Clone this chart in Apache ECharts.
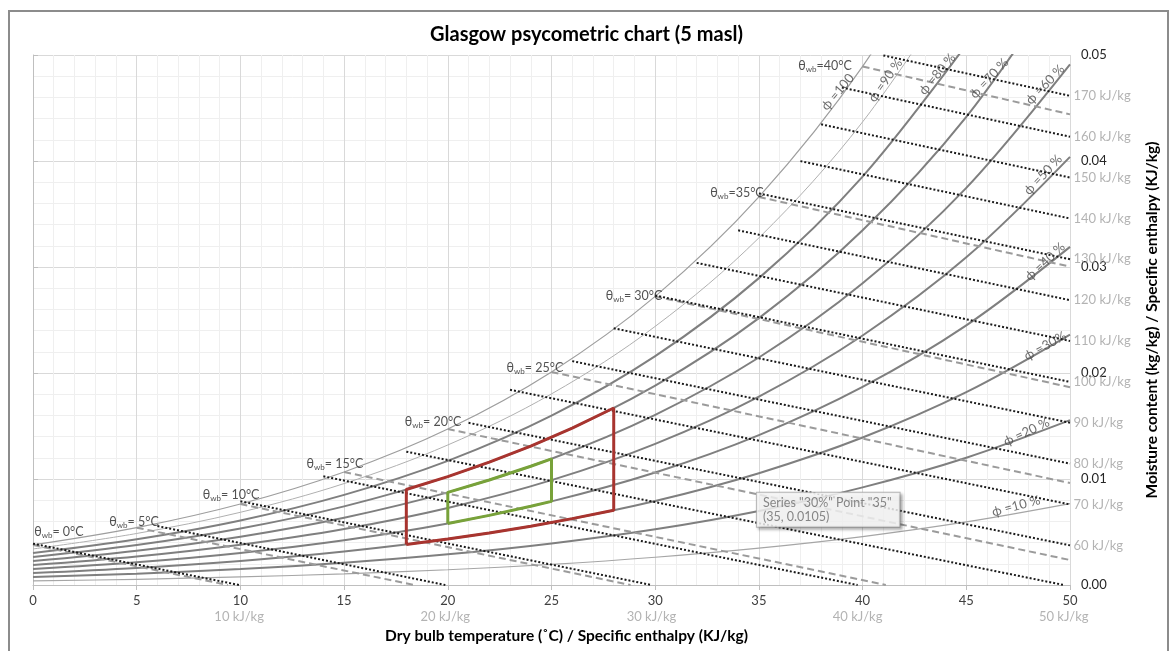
<!DOCTYPE html>
<html><head><meta charset="utf-8">
<script src="https://cdn.jsdelivr.net/npm/echarts@6/dist/echarts.min.js"></script>
<style>
html,body{margin:0;padding:0;background:#fff;overflow:hidden}
#chart{position:absolute;left:0;top:0;width:1173px;height:651px}
#frame{position:absolute;left:8px;top:10px;width:1157px;height:700px;border:2px solid #8c8c8c;pointer-events:none}
</style></head><body>
<div id="chart"></div><div id="frame"></div>
<script>
// ---- data ----
const rhT = [0, 5, 10, 15, 20, 25, 30, 35, 40, 45, 50];
const rh100 = [0.00378, 0.00541, 0.00764, 0.01066, 0.01471, 0.02010, 0.02723, 0.03661, 0.04892, 0.06506];
const rh90 = [0.00340, 0.00486, 0.00686, 0.00957, 0.01321, 0.01803, 0.02440, 0.03275, 0.04369, 0.05795];
const rh80 = [0.00302, 0.00432, 0.00609, 0.00850, 0.01171, 0.01597, 0.02159, 0.02895, 0.03853, 0.05098];
const rh70 = [0.00264, 0.00377, 0.00533, 0.00742, 0.01022, 0.01393, 0.01881, 0.02518, 0.03346, 0.04416, 0.05806];
const rh60 = [0.00226, 0.00323, 0.00456, 0.00635, 0.00874, 0.01191, 0.01605, 0.02146, 0.02846, 0.03747, 0.04911];
const rh50 = [0.00188, 0.00269, 0.00380, 0.00528, 0.00727, 0.00989, 0.01332, 0.01778, 0.02354, 0.03091, 0.04039];
const rh40 = [0.00151, 0.00215, 0.00303, 0.00422, 0.00580, 0.00789, 0.01061, 0.01414, 0.01869, 0.02449, 0.03190];
const rh30 = [0.00113, 0.00161, 0.00227, 0.00316, 0.00434, 0.00590, 0.00793, 0.01055, 0.01391, 0.01819, 0.02362];
const rh20 = [0.00075, 0.00107, 0.00151, 0.00210, 0.00289, 0.00392, 0.00526, 0.00699, 0.00921, 0.01201, 0.01555];
const rh10 = [0.00038, 0.00054, 0.00076, 0.00105, 0.00144, 0.00195, 0.00262, 0.00348, 0.00457, 0.00595, 0.00768];

// constant enthalpy lines (kJ/kg)
const hVals   = [10, 20, 30, 40, 50, 60, 70, 80, 90, 100, 110, 120, 130, 140, 150, 160, 170];
const hStartT = [0, 6, 10, 14, 18, 21, 23, 26, 28, 30, 32, 34, 35, 37, 38, 39, 41];
const hStartW = [0.0039, 0.00556, 0.00790, 0.01025, 0.01258, 0.01530, 0.01842, 0.02112, 0.02422, 0.02731, 0.03039, 0.03346, 0.03694, 0.03999, 0.04346, 0.04693, 0.04996];
const hEndT   = [9.94, 19.88, 29.82, 39.76, 49.70, 50, 50, 50, 50, 50, 50, 50, 50, 50, 50, 50, 50];
const hEndW   = [0, 0, 0, 0, 0, 0.00374, 0.00760, 0.01145, 0.01531, 0.01916, 0.02302, 0.02687, 0.03073, 0.03458, 0.03844, 0.04229, 0.04615];

// constant wet-bulb lines
const wbT      = [0, 5, 10, 15, 20, 25, 30, 35, 40];
const wbStartW = [0.00378, 0.00541, 0.00764, 0.01066, 0.01471, 0.02010, 0.02723, 0.03661, 0.04892];
const wbEndT   = [9.39, 18.38, 28.81, 41.12, 50, 50, 50, 50, 50];
const wbEndW   = [0, 0, 0, 0, 0.00236, 0.00962, 0.01866, 0.03003, 0.04440];

// wet-bulb label anchors and texts
const wbLabelT = [1.25, 4.87, 9.55, 14.56, 19.29, 24.2, 28.98, 33.94, 38.19];
const wbLabelW = [0.0050, 0.00594, 0.00849, 0.01142, 0.01538, 0.02047, 0.02726, 0.03698, 0.04896];
const wbLabelText = ['= 0°C', '= 5°C', '= 10°C', '= 15°C', '= 20°C', '= 25°C', '= 30°C', '=35°C', '=40°C'];

// relative humidity labels
const phiLabelT = [38.8, 41.1, 43.6, 46.1, 48.8, 48.7, 48.8, 48.8, 47.9, 47.4];
const phiLabelW = [0.0465, 0.0476, 0.0482, 0.0478, 0.0472, 0.0387, 0.0305, 0.02255, 0.01443, 0.00745];
const phiLabelRot = [50, 55, 50, 47, 46, 47, 43, 29, 25, 15];
const phiLabelText = ['ϕ =100', 'ϕ =90 %', 'ϕ =80 %', 'ϕ =70 %', 'ϕ =60 %', 'ϕ =50 %', 'ϕ =40 %', 'ϕ =30%', 'ϕ =20 %', 'ϕ =10 %'];

// comfort zones
const redT = [18, 18, 20, 22, 24, 26, 28, 28, 26, 24, 22, 20, 18];
const redW = [0.003828, 0.009006, 0.010222, 0.011585, 0.013107, 0.014806, 0.016700, 0.007049, 0.006260, 0.005550, 0.004912, 0.004340, 0.003828];
const greenT = [20, 20, 22, 24, 25, 25, 24, 22, 20];
const greenW = [0.005801, 0.008742, 0.009903, 0.011201, 0.011905, 0.007886, 0.007423, 0.006567, 0.005801];

// hover box shown in the picture
const tipPoint = [35, 0.0105];
const tipLines = ['Series "30%" Point "35"', '(35, 0.0105)'];

// ---- chart ----
const FONT = 'Lato, "Liberation Sans", sans-serif';
const rhSets = [
  ['100%', rh100, '#9e9e9e', 1.2], ['90%', rh90, '#b0b0b0', 1], ['80%', rh80, '#7f7f7f', 2],
  ['70%', rh70, '#7f7f7f', 2], ['60%', rh60, '#7f7f7f', 2], ['50%', rh50, '#7f7f7f', 2],
  ['40%', rh40, '#7f7f7f', 2], ['30%', rh30, '#7f7f7f', 2], ['20%', rh20, '#7f7f7f', 2],
  ['10%', rh10, '#a6a6a6', 1.2]
];
const series = [];
rhSets.forEach(([name, arr, color, width]) => {
  series.push({type: 'line', name, data: arr.map((w, i) => [rhT[i], w]), smooth: 0.35,
    showSymbol: false, silent: true, z: 2, lineStyle: {color, width}});
});
wbT.forEach((t, i) => {
  series.push({type: 'line', data: [[t, wbStartW[i]], [wbEndT[i], wbEndW[i]]], showSymbol: false, silent: true, z: 3,
    lineStyle: {color: '#9b9b9b', width: 2, type: [7, 4]}});
});
hVals.forEach((h, i) => {
  series.push({type: 'line', data: [[hStartT[i], hStartW[i]], [hEndT[i], hEndW[i]]], showSymbol: false, silent: true, z: 4,
    lineStyle: {color: '#1a1a1a', width: 2, type: [2, 2]}});
});
series.push({type: 'line', data: redT.map((t, i) => [t, redW[i]]), showSymbol: false, silent: true, z: 6,
  lineStyle: {color: '#a8342f', width: 3}});
series.push({type: 'line', data: greenT.map((t, i) => [t, greenW[i]]), showSymbol: false, silent: true, z: 6,
  lineStyle: {color: '#78a23a', width: 3}});

const hidden = {symbolSize: 1, itemStyle: {color: 'transparent'}, silent: true, clip: false, z: 10};
series.push(Object.assign({type: 'scatter',
  data: hVals.map((h, i) => ({value: [hEndT[i], hEndW[i]],
    label: {formatter: h + ' kJ/kg', position: hEndW[i] === 0 ? 'bottom' : 'right', distance: hEndW[i] === 0 ? 25 : 3}})),
  label: {show: true, color: '#a0a0a0', fontSize: 13, fontFamily: FONT}}, hidden));
series.push(Object.assign({type: 'scatter',
  data: wbLabelT.map((t, i) => ({value: [t, wbLabelW[i]], label: {formatter: 'θ{s|wb}' + wbLabelText[i]}})),
  label: {show: true, position: 'inside', color: '#262626', fontSize: 12.5, fontFamily: FONT, lineHeight: 14,
    rich: {s: {fontSize: 8, fontFamily: FONT, color: '#262626', verticalAlign: 'bottom', lineHeight: 10}}}}, hidden));
series.push(Object.assign({type: 'scatter',
  data: phiLabelT.map((t, i) => ({value: [t, phiLabelW[i]], label: {formatter: phiLabelText[i], rotate: phiLabelRot[i]}})),
  label: {show: true, position: 'inside', color: '#4a4a4a', fontSize: 13, fontFamily: FONT}}, hidden));
series.push(Object.assign({type: 'scatter', data: [{value: tipPoint}],
  label: {show: true, position: 'inside', align: 'left', verticalAlign: 'top', offset: [-2, 19],
    formatter: tipLines.join('\n'), color: '#6a6a6a', fontSize: 12.5, lineHeight: 14, fontFamily: FONT,
    backgroundColor: '#fff', borderColor: '#a6a6a6', borderWidth: 1, padding: [3, 8, 3, 6],
    shadowColor: 'rgba(0,0,0,0.35)', shadowBlur: 3, shadowOffsetX: 2, shadowOffsetY: 2}}, hidden, {z: 12}));

const gridLine = {show: true, lineStyle: {color: '#d9d9d9', width: 1}};
const minorLine = {show: true, lineStyle: {color: '#efefef', width: 1}};
const chart = echarts.init(document.getElementById('chart'), null, {renderer: 'canvas'});
chart.setOption({
  animation: false,
  backgroundColor: '#fff',
  title: {text: 'Glasgow psycometric chart (5 masl)', left: 'center', top: 20,
    textStyle: {fontSize: 20, fontWeight: 'bold', color: '#000', fontFamily: FONT}},
  grid: {left: 33, right: 103, top: 55, bottom: 66, containLabel: false},
  xAxis: {type: 'value', min: 0, max: 50, interval: 5,
    axisLine: {show: true, onZero: false, lineStyle: {color: '#bfbfbf'}},
    axisTick: {show: true, length: 5, lineStyle: {color: '#bfbfbf'}},
    axisLabel: {color: '#404040', fontSize: 13, margin: 9, fontFamily: FONT},
    splitLine: gridLine, minorTick: {show: false, splitNumber: 5}, minorSplitLine: minorLine,
    name: 'Dry bulb temperature (˚C) / Specific enthalpy (KJ/kg)', nameLocation: 'middle', nameGap: 43,
    nameTextStyle: {fontWeight: 'bold', fontSize: 15.5, color: '#000', fontFamily: FONT, padding: [0, 0, 0, 30]}},
  yAxis: {type: 'value', position: 'right', min: 0, max: 0.05, interval: 0.01,
    axisLine: {show: true, lineStyle: {color: '#bfbfbf'}},
    axisTick: {show: true, length: 5, lineStyle: {color: '#bfbfbf'}},
    axisLabel: {color: '#262626', fontSize: 13, margin: 11, fontFamily: FONT, formatter: v => v.toFixed(2)},
    splitLine: gridLine, minorTick: {show: false, splitNumber: 5}, minorSplitLine: minorLine,
    name: 'Moisture content (kg/kg) / Specific enthalpy (KJ/kg)', nameLocation: 'middle', nameRotate: 90, nameGap: 74,
    nameTextStyle: {fontWeight: 'bold', fontSize: 15.5, color: '#000', fontFamily: FONT}},
  series
});
</script>
</body></html>
